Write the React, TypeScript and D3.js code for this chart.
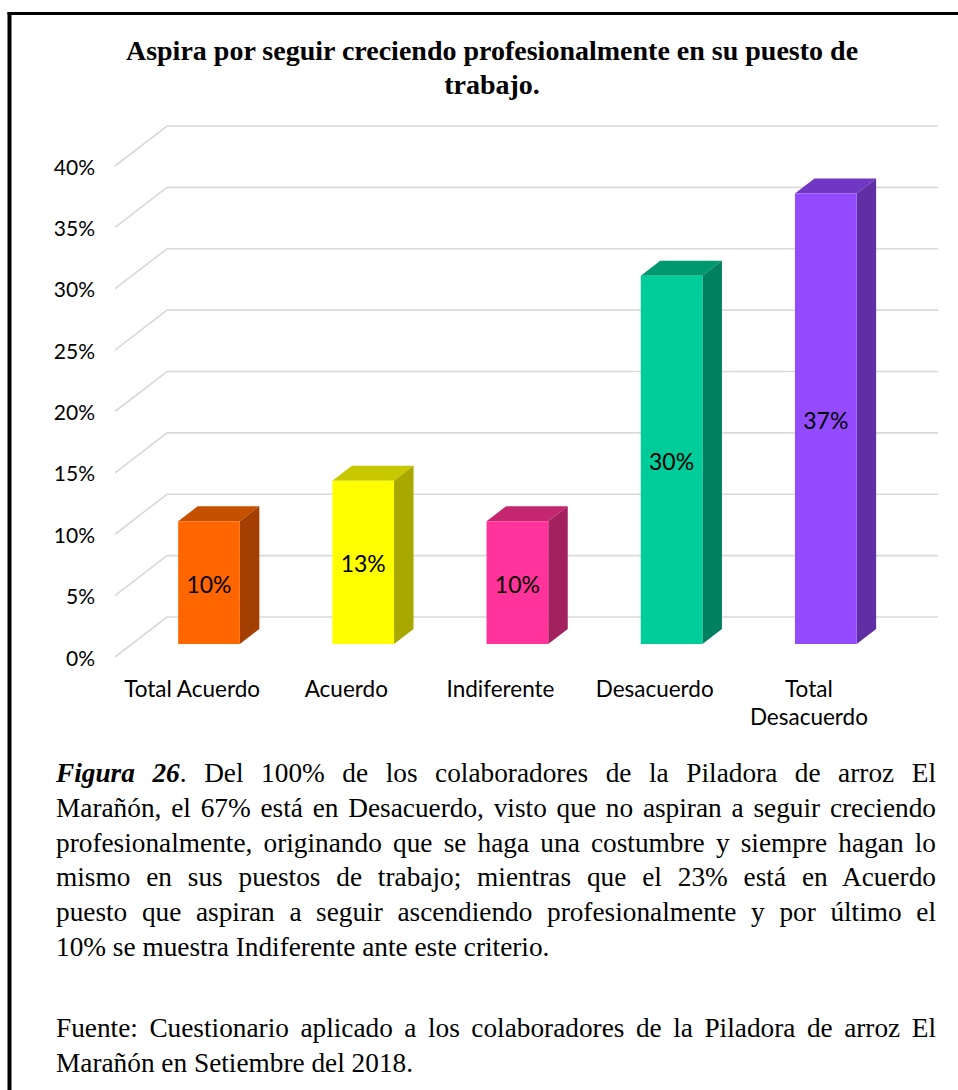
import { useEffect, useRef } from 'react'
import * as d3 from 'd3'

const WIDTH = 958
const HEIGHT = 1090

const categories = ['Total Acuerdo', 'Acuerdo', 'Indiferente', 'Desacuerdo', 'Total Desacuerdo']
const categoryLines = [['Total Acuerdo'], ['Acuerdo'], ['Indiferente'], ['Desacuerdo'], ['Total', 'Desacuerdo']]
const values = [10, 13.3, 10, 30, 36.7]
const yTicks = [0, 5, 10, 15, 20, 25, 30, 35, 40]

const frontColors = ['#ff6600', '#ffff00', '#ff3399', '#00cc99', '#944aff']
const sideColors = ['#a33f00', '#a8a800', '#a3215f', '#00805f', '#5f2fa3']
const topColors = ['#c45000', '#c8c800', '#c4266f', '#00996f', '#7036c4']

const titleLines = ['Aspira por seguir creciendo profesionalmente en su puesto de', 'trabajo.']

const captionLines = [
  { lead: 'Figura 26', text: '. Del 100% de los colaboradores de la Piladora de arroz El', justify: true },
  { lead: '', text: 'Marañón, el 67% está en Desacuerdo, visto que no aspiran a seguir creciendo', justify: true },
  { lead: '', text: 'profesionalmente, originando que se haga una costumbre y siempre hagan lo', justify: true },
  { lead: '', text: 'mismo en sus puestos de trabajo; mientras que el 23% está en Acuerdo', justify: true },
  { lead: '', text: 'puesto que aspiran a seguir ascendiendo profesionalmente y por último el', justify: true },
  { lead: '', text: '10% se muestra Indiferente ante este criterio.', justify: false },
]
const sourceLines = [
  { lead: '', text: 'Fuente: Cuestionario aplicado a los colaboradores de la Piladora de arroz El', justify: true },
  { lead: '', text: 'Marañón en Setiembre del 2018.', justify: false },
]

// back wall of the 3D plot and depth vector (back -> front)
const WALL = { left: 167, right: 938, bottom: 617, top: 126 }
const DEPTH = { dx: -52, dy: 40 }
const BAR_BACK = 0.3
const BAR_FRONT = 0.675

const TEXT_LEFT = 56
const TEXT_RIGHT = 936
const SANS = 'Lato, "Open Sans", sans-serif'
const SERIF = '"Liberation Serif", "Times New Roman", serif'

export default function App() {
  const svgRef = useRef<SVGSVGElement>(null)

  useEffect(() => {
    const svg = d3.select(svgRef.current)
    svg.selectAll('*').remove()

    const x = d3
      .scaleBand<string>()
      .domain(categories)
      .range([WALL.left, WALL.right])
      .paddingInner(0.6)
      .paddingOuter(0.3)
    const y = d3.scaleLinear().domain([0, 40]).range([WALL.bottom, WALL.top])
    const bw = x.bandwidth()

    // frame
    svg.append('rect').attr('width', WIDTH).attr('height', HEIGHT).attr('fill', '#fff')
    svg.append('line').attr('x1', 9.5).attr('x2', 9.5).attr('y1', 12).attr('y2', HEIGHT)
      .attr('stroke', '#000').attr('stroke-width', 4)
    svg.append('line').attr('x1', 7.5).attr('x2', WIDTH).attr('y1', 13.5).attr('y2', 13.5)
      .attr('stroke', '#000').attr('stroke-width', 3)

    // title
    svg.append('g')
      .selectAll('text')
      .data(titleLines)
      .join('text')
      .attr('x', 492)
      .attr('y', (_, i) => 60 + i * 34)
      .attr('text-anchor', 'middle')
      .attr('font-family', SERIF)
      .attr('font-weight', 700)
      .attr('font-size', 28)
      .attr('fill', '#000')
      .text((d) => d)

    // gridlines: floor diagonal + back wall line
    svg.append('g')
      .selectAll('polyline')
      .data(yTicks)
      .join('polyline')
      .attr('points', (t) =>
        `${WALL.left + DEPTH.dx},${y(t) + DEPTH.dy} ${WALL.left},${y(t)} ${WALL.right},${y(t)}`)
      .attr('fill', 'none')
      .attr('stroke', '#d9d9d9')
      .attr('stroke-width', 1.6)

    // y labels
    svg.append('g')
      .selectAll('text')
      .data(yTicks)
      .join('text')
      .attr('x', 95)
      .attr('y', (t) => y(t) + DEPTH.dy)
      .attr('text-anchor', 'end')
      .attr('dominant-baseline', 'central')
      .attr('font-family', SANS)
      .attr('font-size', 21)
      .attr('fill', '#000')
      .text((t) => `${t}%`)

    // bars
    const sdx = DEPTH.dx * (BAR_BACK - BAR_FRONT)
    const sdy = DEPTH.dy * (BAR_BACK - BAR_FRONT)
    const bars = svg.append('g')
    categories.forEach((c, i) => {
      const x0 = (x(c) ?? 0) + DEPTH.dx * BAR_FRONT
      const yt = y(values[i]) + DEPTH.dy * BAR_FRONT
      const yb = y(0) + DEPTH.dy * BAR_FRONT
      const g = bars.append('g')
      g.append('polygon')
        .attr('points', [[x0, yt], [x0 + bw, yt], [x0 + bw + sdx, yt + sdy], [x0 + sdx, yt + sdy]].join(' '))
        .attr('fill', topColors[i])
      g.append('polygon')
        .attr('points', [[x0 + bw, yt], [x0 + bw + sdx, yt + sdy], [x0 + bw + sdx, yb + sdy], [x0 + bw, yb]].join(' '))
        .attr('fill', sideColors[i])
      g.append('rect')
        .attr('x', x0)
        .attr('y', yt)
        .attr('width', bw)
        .attr('height', yb - yt)
        .attr('fill', frontColors[i])
      g.append('text')
        .attr('x', x0 + bw / 2)
        .attr('y', (yt + yb) / 2 + 1)
        .attr('text-anchor', 'middle')
        .attr('dominant-baseline', 'central')
        .attr('font-family', SANS)
        .attr('font-size', 23)
        .attr('fill', '#000')
        .text(`${Math.round(values[i])}%`)
    })

    // category labels
    svg.append('g')
      .selectAll('text')
      .data(categories)
      .join('text')
      .attr('text-anchor', 'middle')
      .attr('font-family', SANS)
      .attr('font-size', 22.5)
      .attr('fill', '#000')
      .each(function (c, i) {
        const cx = (x(c) ?? 0) + bw / 2 + DEPTH.dx
        d3.select(this)
          .selectAll('tspan')
          .data(categoryLines[i])
          .join('tspan')
          .attr('x', cx)
          .attr('y', (_, j) => y(0) + DEPTH.dy + 31 + j * 28)
          .attr('dominant-baseline', 'central')
          .text((d) => d)
      })

    // caption paragraphs, justified by word spacing
    const drawParagraph = (lines: typeof captionLines, baseline: number) => {
      lines.forEach((line, i) => {
        const t = svg.append('text')
          .attr('x', TEXT_LEFT)
          .attr('y', baseline + i * 34.8)
          .attr('font-family', SERIF)
          .attr('font-size', 27.3)
          .attr('fill', '#000')
        if (line.lead) {
          t.append('tspan').attr('font-weight', 700).attr('font-style', 'italic').text(line.lead)
        }
        t.append('tspan').text(line.text)
        if (line.justify) {
          const node = t.node() as SVGTextElement
          const natural = node.getComputedTextLength()
          const spaces = (line.lead + line.text).split(' ').length - 1
          const extra = (TEXT_RIGHT - TEXT_LEFT - natural) / spaces
          t.style('word-spacing', `${extra}px`)
        }
      })
    }
    drawParagraph(captionLines, 782)
    drawParagraph(sourceLines, 1037)
  }, [])

  return (
    <div style={{ position: 'absolute', left: 0, top: 0 }}>
      <svg ref={svgRef} width={WIDTH} height={HEIGHT} viewBox={`0 0 ${WIDTH} ${HEIGHT}`} />
    </div>
  )
}
